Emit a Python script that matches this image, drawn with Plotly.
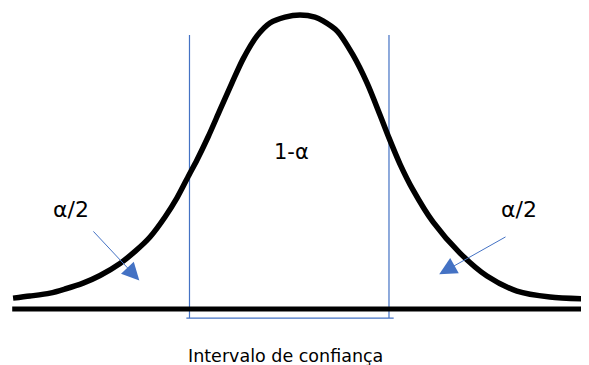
import plotly.graph_objects as go

# ---- data ----
# bell curve: x in standard units (z), y = relative height (peak = 1)
curve_z = [-3.679, -3.462, -3.205, -3.013, -2.782, -2.564, -2.308, -2.115, -1.923, -1.731,
           -1.577, -1.423, -1.321, -1.179, -1.026, -0.872, -0.731, -0.551, -0.385, -0.192,
           0.000, 0.192, 0.295, 0.474, 0.679, 0.859, 1.026, 1.141, 1.282, 1.449,
           1.705, 2.051, 2.397, 2.782, 3.205, 3.705]
curve_h = [0.037, 0.044, 0.054, 0.068, 0.088, 0.114, 0.155, 0.196, 0.245, 0.313,
           0.378, 0.456, 0.507, 0.585, 0.677, 0.769, 0.850, 0.929, 0.973, 0.993,
           1.000, 0.993, 0.980, 0.946, 0.864, 0.769, 0.660, 0.582, 0.493, 0.405,
           0.296, 0.190, 0.112, 0.061, 0.041, 0.034]

axis_z = [-3.69, 3.72]             # extent of the horizontal axis line
interval_bounds = [-1.417, 1.141]  # confidence interval limits
interval_top = 0.932               # height of the vertical limit lines
bracket_level = -0.031             # level of the bracket under the axis

center_label = "1-α"
tail_label = "α/2"
interval_label = "Intervalo de confiança"

BLUE = "#4472C4"
fig = go.Figure()

# vertical limit lines
for b in interval_bounds:
    fig.add_trace(go.Scatter(x=[b, b], y=[bracket_level, interval_top], mode="lines",
                             line=dict(color=BLUE, width=1.2), hoverinfo="skip"))
# bracket under the axis
fig.add_trace(go.Scatter(x=[interval_bounds[0] - 0.04, interval_bounds[1] + 0.06],
                         y=[bracket_level, bracket_level], mode="lines",
                         line=dict(color=BLUE, width=1.2), hoverinfo="skip"))
# axis line
fig.add_trace(go.Scatter(x=axis_z, y=[0, 0], mode="lines",
                         line=dict(color="black", width=5), hoverinfo="skip"))
# bell curve
fig.add_trace(go.Scatter(x=curve_z, y=curve_h, mode="lines",
                         line=dict(color="black", width=5.5, shape="spline", smoothing=0.8),
                         hoverinfo="skip"))

txt_font = dict(family="DejaVu Sans", size=22, color="black")
fig.add_annotation(x=-0.115, y=0.534, text=center_label, showarrow=False,
                   font=dict(family="DejaVu Sans", size=21, color="black"))
fig.add_annotation(x=-2.936, y=0.337, text=tail_label, showarrow=False, font=txt_font)
fig.add_annotation(x=2.808, y=0.337, text=tail_label, showarrow=False, font=txt_font)
fig.add_annotation(x=-0.18, y=-0.159, text=interval_label, showarrow=False,
                   font=dict(family="DejaVu Sans", size=17.5, color="black"))

# arrows pointing into the tails
fig.add_annotation(x=-2.06, y=0.097, ax=-2.667, ay=0.269, axref="x", ayref="y",
                   text="", showarrow=True, arrowhead=2, arrowsize=3.5,
                   arrowwidth=1, arrowcolor=BLUE)
fig.add_annotation(x=1.785, y=0.118, ax=2.654, ay=0.248, axref="x", ayref="y",
                   text="", showarrow=True, arrowhead=2, arrowsize=3.5,
                   arrowwidth=1, arrowcolor=BLUE)

# ranges compensate for the page's 8px body margin
fig.update_layout(
    width=589, height=365,
    margin=dict(l=0, r=0, t=0, b=0),
    paper_bgcolor="white", plot_bgcolor="white",
    showlegend=False,
    xaxis=dict(range=[-3.744, 3.808], visible=False, fixedrange=True),
    yaxis=dict(range=[-0.2177, 1.0238], visible=False, fixedrange=True),
)

fig.write_html("out.html")
